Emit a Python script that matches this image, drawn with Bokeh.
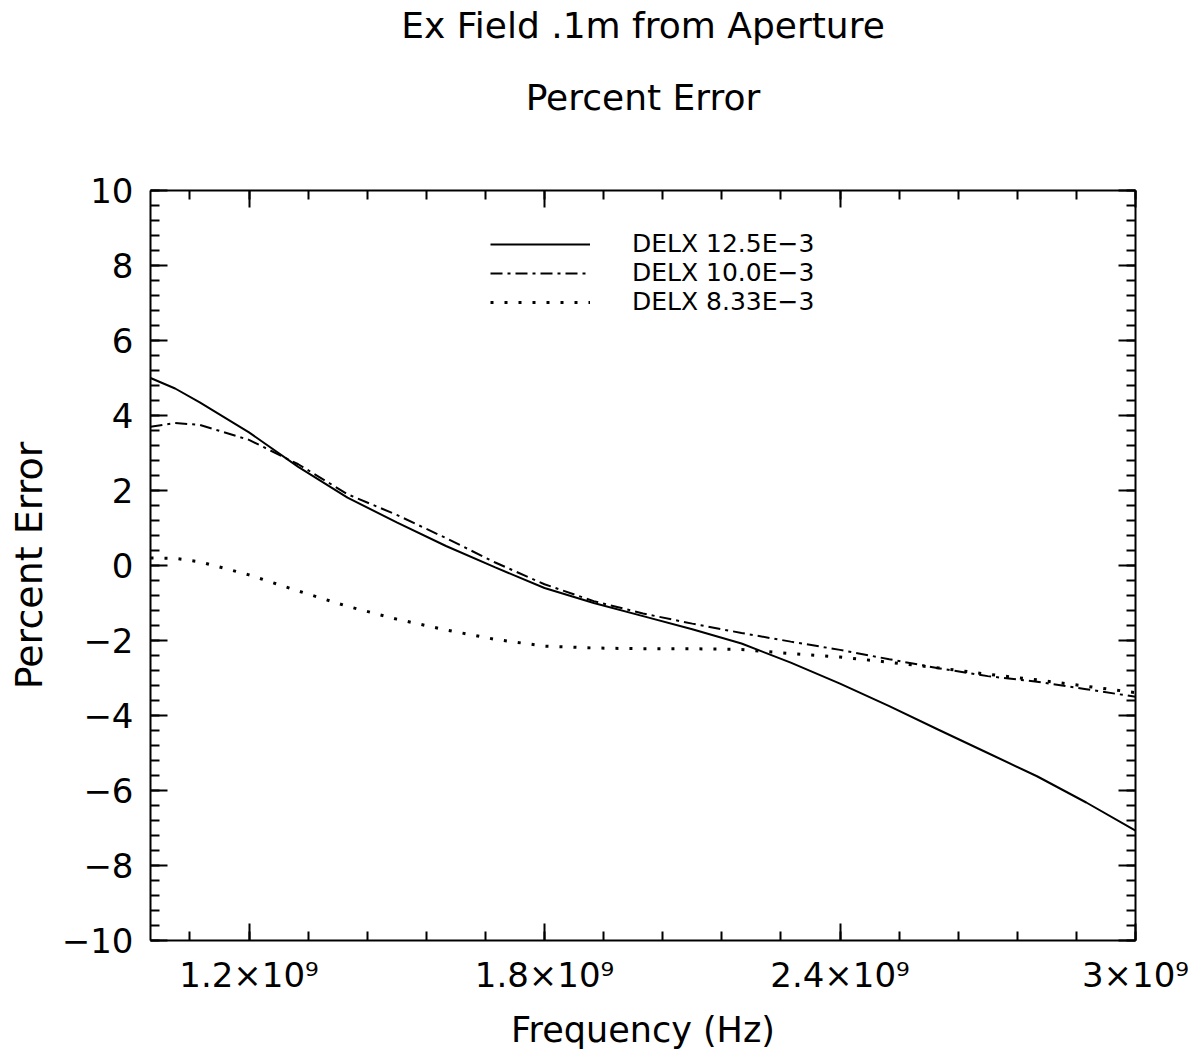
from bokeh.plotting import figure
from bokeh.models import (LinearAxis, FixedTicker, Legend, LegendItem, Range1d)
from bokeh.embed import file_html
from bokeh.resources import INLINE

# Frequency samples (Hz) and percent error for three cell sizes
freq_ghz = [1.0, 1.05, 1.1, 1.2, 1.3, 1.4, 1.5, 1.6, 1.7, 1.8, 1.9, 2.0,
            2.1, 2.2, 2.3, 2.4, 2.5, 2.6, 2.7, 2.8, 2.9, 3.0]
err_delx_125 = [5.0, 4.72, 4.35, 3.55, 2.63, 1.81, 1.15, 0.52, -0.05, -0.6, -1.0, -1.35,
                -1.7, -2.08, -2.59, -3.15, -3.75, -4.38, -5.0, -5.62, -6.32, -7.07]
err_delx_100 = [3.7, 3.8, 3.75, 3.35, 2.7, 1.9, 1.35, 0.73, 0.08, -0.5, -0.95, -1.28,
                -1.55, -1.8, -2.03, -2.25, -2.5, -2.74, -2.95, -3.1, -3.3, -3.5]
err_delx_833 = [0.2, 0.19, 0.1, -0.25, -0.68, -1.09, -1.43, -1.72, -1.97, -2.15, -2.2, -2.22,
                -2.22, -2.24, -2.35, -2.44, -2.58, -2.73, -2.9, -3.05, -3.22, -3.39]
series_labels = ["DELX 12.5E\u22123", "DELX 10.0E\u22123", "DELX 8.33E\u22123"]

x_major = [1.2e9, 1.8e9, 2.4e9, 3.0e9]
x_major_labels = ["1.2\u00d710\u2079", "1.8\u00d710\u2079", "2.4\u00d710\u2079", "3\u00d710\u2079"]
y_major = [-10, -8, -6, -4, -2, 0, 2, 4, 6, 8, 10]

title_lines = ["Ex Field .1m from Aperture", "Percent Error"]

freq = [f * 1e9 for f in freq_ghz]
FONT = "DejaVu Sans"

p = figure(width=1196, height=1061, output_backend="svg", toolbar_location=None,
           title=None, x_range=Range1d(1.0e9, 3.0e9), y_range=Range1d(-10, 10),
           x_axis_type=None, y_axis_type=None,
           min_border_left=150, min_border_right=61, min_border_top=190,
           min_border_bottom=121)
p.frame_width = 985
p.frame_height = 750
p.outline_line_color = None
p.xgrid.visible = False
p.ygrid.visible = False
p.background_fill_color = "white"
p.border_fill_color = "white"

x_minor = [1.08e9 + 0.12e9 * k for k in range(17)]
y_minor = [-10 + 0.4 * k for k in range(51)]
xt = FixedTicker(ticks=x_major, minor_ticks=x_minor)
yt = FixedTicker(ticks=y_major, minor_ticks=y_minor)


def style_axis(ax, labels):
    ax.axis_line_width = 2
    ax.axis_line_color = "black"
    ax.major_tick_in = 17
    ax.major_tick_out = 0
    ax.minor_tick_in = 9
    ax.minor_tick_out = 0
    ax.major_tick_line_width = 2
    ax.minor_tick_line_width = 2
    ax.major_tick_line_color = "black"
    ax.minor_tick_line_color = "black"
    ax.axis_label_text_font = FONT
    ax.axis_label_text_font_size = "35px"
    ax.axis_label_text_font_style = "normal"
    ax.axis_label_text_color = "black"
    if labels:
        ax.major_label_text_font = FONT
        ax.major_label_text_font_size = "34px"
        ax.major_label_text_color = "black"
    else:
        ax.major_label_text_font_size = "0px"
        ax.major_label_standoff = 0


xb = LinearAxis(ticker=xt, axis_label="Frequency (Hz)")
xb.major_label_overrides = {v: s for v, s in zip(x_major, x_major_labels)}
style_axis(xb, True)
xb.major_label_standoff = 14
xb.axis_label_standoff = 12
p.add_layout(xb, "below")

yl = LinearAxis(ticker=yt, axis_label="Percent Error")
yl.major_label_overrides = {v: str(v).replace("-", "\u2212") for v in y_major}
style_axis(yl, True)
yl.axis_label_text_font_size = "38px"
yl.major_label_standoff = 17
yl.axis_label_standoff = 8
p.add_layout(yl, "left")

# mirrored tick marks on the top edge; its label carries the two-line heading
# (an empty line between the two keeps the gap without extra leading on top)
xt_top = LinearAxis(ticker=xt, axis_label="\n\n".join(title_lines))
style_axis(xt_top, False)
xt_top.axis_label_text_font_size = "36px"
xt_top.axis_label_text_line_height = 0.871
xt_top.axis_label_text_align = "center"
xt_top.axis_label_standoff = 73
p.add_layout(xt_top, "above")

yr = LinearAxis(ticker=yt)
style_axis(yr, False)
p.add_layout(yr, "right")

r1 = p.line(freq, err_delx_125, line_color="black", line_width=2)
r2 = p.line(freq, err_delx_100, line_color="black", line_width=2, line_dash="12 5 3 5")
r3 = p.line(freq, err_delx_833, line_color="black", line_width=3, line_dash="3 11")

# one single-row legend per series so the rows can sit close together
legend_bottoms = [682, 653, 624]
for rend, lab, yb in zip([r1, r2, r3], series_labels, legend_bottoms):
    lg = Legend(items=[LegendItem(label=lab, renderers=[rend])],
                location=(340, yb), orientation="vertical",
                glyph_width=100, glyph_height=20, label_height=20,
                label_standoff=42, spacing=0, padding=0, margin=0,
                label_text_font=FONT, label_text_font_size="25px",
                label_text_color="black",
                border_line_color=None, background_fill_alpha=0)
    p.add_layout(lg, "center")

open("out.html", "w").write(file_html(p, INLINE))
